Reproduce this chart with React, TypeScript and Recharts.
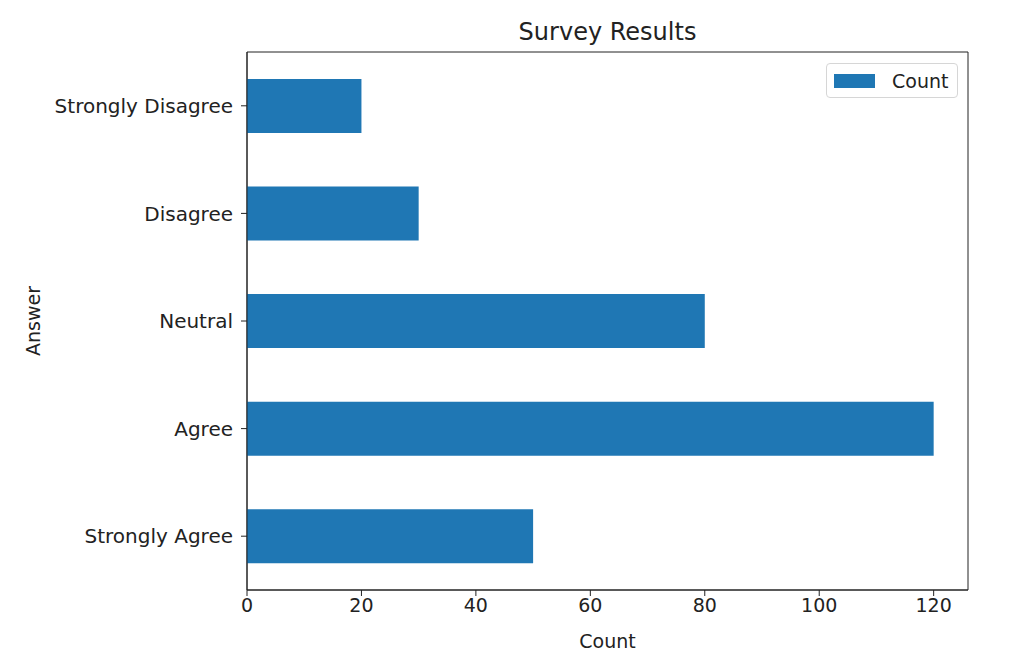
import React from "react";
import {
  BarChart,
  Bar,
  XAxis,
  YAxis,
  Legend,
  Label,
  ReferenceArea,
} from "recharts";

// matplotlib draws the first row at the bottom, so the list runs top to bottom here
const answers = ["Strongly Disagree", "Disagree", "Neutral", "Agree", "Strongly Agree"];
const counts = [20, 30, 80, 120, 50];
const countTicks = [0, 20, 40, 60, 80, 100, 120];

const data = answers.map((answer, i) => ({ answer, Count: counts[i] }));

const FONT = "'DejaVu Sans', sans-serif";
const TEXT = "#222";
const BLUE = "#1f77b4";

const LegendBox = () => (
  <div
    style={{
      display: "flex",
      alignItems: "center",
      width: 132,
      height: 35,
      boxSizing: "border-box",
      border: "1px solid #d6d6d6",
      borderRadius: 4,
      background: "#fff",
      fontFamily: FONT,
      fontSize: 19,
      color: TEXT,
      paddingLeft: 7,
    }}
  >
    <span style={{ display: "inline-block", width: 41, height: 14, background: BLUE }} />
    <span style={{ marginLeft: 17 }}>Count</span>
  </div>
);

const App = () => {
  return (
    <div style={{ position: "absolute", left: 0, top: 0, width: 1024, height: 667, background: "#fff" }}>
      <div
        style={{
          position: "absolute",
          left: 247,
          width: 721,
          top: 18,
          textAlign: "center",
          fontFamily: FONT,
          fontSize: 24,
          color: TEXT,
        }}
      >
        Survey Results
      </div>
      <BarChart
        width={1024}
        height={667}
        data={data}
        layout="vertical"
        margin={{ top: 17, right: 56, left: 0, bottom: 0 }}
        barCategoryGap="25%"
      >
        <XAxis
          type="number"
          domain={[0, 126]}
          ticks={countTicks}
          height={77}
          tickSize={6}
          tickMargin={3}
          stroke="#222"
          tick={{ fill: TEXT, fontSize: 19, fontFamily: FONT }}
        >
          <Label value="Count" position="insideBottom" offset={19} fill={TEXT} fontSize={19} fontFamily={FONT} />
        </XAxis>
        <YAxis
          type="category"
          dataKey="answer"
          width={247}
          tickSize={6}
          tickMargin={8}
          stroke="#222"
          tick={{ fill: TEXT, fontSize: 20, fontFamily: FONT }}
        >
          <Label
            value="Answer"
            angle={-90}
            position="insideLeft"
            offset={33}
            style={{ textAnchor: "middle" }}
            fill={TEXT}
            fontSize={19}
            fontFamily={FONT}
          />
        </YAxis>
        <ReferenceArea x1={0} x2={126} fill="none" stroke="#222" strokeWidth={1} ifOverflow="visible" />
        <Legend
          content={<LegendBox />}
          verticalAlign="top"
          wrapperStyle={{ position: "absolute", left: 826, top: 63, width: 132 }}
        />
        <Bar dataKey="Count" fill={BLUE} isAnimationActive={false} />
      </BarChart>
    </div>
  );
};

export default App;
